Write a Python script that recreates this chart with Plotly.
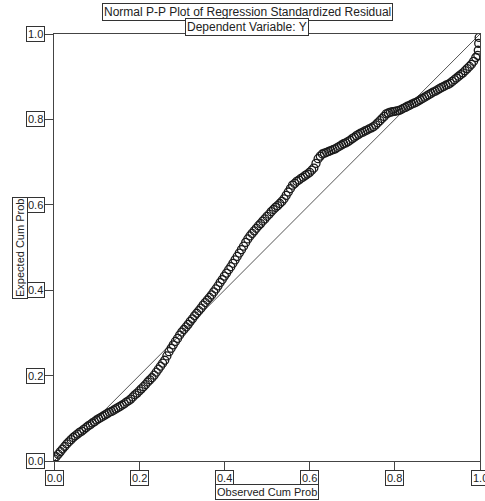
import plotly.graph_objects as go

observed = [
    0.000, 0.005, 0.010, 0.015, 0.020, 0.025, 0.030, 0.035, 0.040, 0.045,
    0.050, 0.055, 0.060, 0.065, 0.070, 0.075, 0.080, 0.085, 0.090, 0.095,
    0.100, 0.105, 0.110, 0.115, 0.120, 0.125, 0.130, 0.135, 0.140, 0.145,
    0.150, 0.155, 0.160, 0.165, 0.170, 0.175, 0.180, 0.185, 0.190, 0.195,
    0.200, 0.205, 0.210, 0.215, 0.220, 0.225, 0.230, 0.235, 0.240, 0.245,
    0.250, 0.255, 0.260, 0.265, 0.270, 0.275, 0.280, 0.285, 0.290, 0.295,
    0.300, 0.305, 0.310, 0.315, 0.320, 0.325, 0.330, 0.335, 0.340, 0.345,
    0.350, 0.355, 0.360, 0.365, 0.370, 0.375, 0.380, 0.385, 0.390, 0.395,
    0.400, 0.405, 0.410, 0.415, 0.420, 0.425, 0.430, 0.435, 0.440, 0.445,
    0.450, 0.455, 0.460, 0.465, 0.470, 0.475, 0.480, 0.485, 0.490, 0.495,
    0.500, 0.505, 0.510, 0.515, 0.520, 0.525, 0.530, 0.535, 0.540, 0.545,
    0.550, 0.555, 0.560, 0.565, 0.570, 0.575, 0.580, 0.585, 0.590, 0.595,
    0.600, 0.605, 0.610, 0.615, 0.620, 0.625, 0.630, 0.635, 0.640, 0.645,
    0.650, 0.655, 0.660, 0.665, 0.670, 0.675, 0.680, 0.685, 0.690, 0.695,
    0.700, 0.705, 0.710, 0.715, 0.720, 0.725, 0.730, 0.735, 0.740, 0.745,
    0.750, 0.755, 0.760, 0.765, 0.770, 0.775, 0.780, 0.785, 0.790, 0.795,
    0.800, 0.805, 0.810, 0.815, 0.820, 0.825, 0.830, 0.835, 0.840, 0.845,
    0.850, 0.855, 0.860, 0.865, 0.870, 0.875, 0.880, 0.885, 0.890, 0.895,
    0.900, 0.905, 0.910, 0.915, 0.920, 0.925, 0.930, 0.935, 0.940, 0.945,
    0.950, 0.955, 0.960, 0.965, 0.970, 0.975, 0.980, 0.985, 0.990, 0.995,
    0.996, 0.997, 0.998,
]
expected = [
    0.005, 0.010, 0.016, 0.022, 0.028, 0.034, 0.040, 0.045, 0.050, 0.055,
    0.059, 0.063, 0.067, 0.070, 0.074, 0.078, 0.082, 0.085, 0.089, 0.092,
    0.096, 0.099, 0.102, 0.105, 0.108, 0.111, 0.114, 0.116, 0.119, 0.122,
    0.125, 0.128, 0.131, 0.134, 0.138, 0.141, 0.145, 0.150, 0.155, 0.159,
    0.164, 0.169, 0.174, 0.179, 0.185, 0.190, 0.195, 0.201, 0.208, 0.215,
    0.222, 0.229, 0.236, 0.246, 0.256, 0.264, 0.272, 0.280, 0.287, 0.295,
    0.302, 0.308, 0.314, 0.320, 0.327, 0.333, 0.340, 0.346, 0.352, 0.358,
    0.365, 0.371, 0.377, 0.383, 0.389, 0.396, 0.403, 0.410, 0.418, 0.425,
    0.433, 0.440, 0.448, 0.455, 0.463, 0.471, 0.479, 0.487, 0.495, 0.503,
    0.512, 0.520, 0.527, 0.533, 0.539, 0.545, 0.551, 0.556, 0.562, 0.567,
    0.573, 0.578, 0.584, 0.589, 0.594, 0.598, 0.603, 0.608, 0.614, 0.622,
    0.630, 0.638, 0.646, 0.650, 0.655, 0.658, 0.662, 0.665, 0.669, 0.672,
    0.676, 0.681, 0.686, 0.697, 0.708, 0.714, 0.719, 0.721, 0.723, 0.725,
    0.727, 0.729, 0.731, 0.734, 0.737, 0.740, 0.743, 0.745, 0.748, 0.751,
    0.755, 0.758, 0.762, 0.765, 0.768, 0.770, 0.773, 0.775, 0.778, 0.780,
    0.783, 0.787, 0.792, 0.797, 0.802, 0.807, 0.813, 0.815, 0.817, 0.818,
    0.819, 0.820, 0.821, 0.823, 0.826, 0.828, 0.831, 0.833, 0.836, 0.838,
    0.840, 0.843, 0.846, 0.849, 0.852, 0.855, 0.858, 0.861, 0.864, 0.866,
    0.869, 0.872, 0.875, 0.877, 0.880, 0.882, 0.885, 0.889, 0.893, 0.897,
    0.901, 0.905, 0.909, 0.914, 0.919, 0.924, 0.929, 0.936, 0.945, 0.950,
    0.962, 0.978, 0.992,
]
ref_line = [0.0, 1.0]
tick_vals = [0.0, 0.2, 0.4, 0.6, 0.8, 1.0]
tick_text = ["0.0", "0.2", "0.4", "0.6", "0.8", "1.0"]

title_text = "Normal P-P Plot of Regression Standardized Residual"
subtitle_text = "Dependent Variable: Y"
x_title = "Observed Cum Prob"
y_title = "Expected Cum Prob"

FONT = "Liberation Sans, Arial, sans-serif"
AX = "#444444"

# plot area in pixels: x 54..480, y 34..461
PL, PR, PT, PB = 54, 480, 34, 461
W, H = 485, 501


def px(x):
    return (x - PL) / (PR - PL)


def py(y):
    return (PB - y) / (PB - PT)


fig = go.Figure()
fig.add_trace(go.Scatter(x=ref_line, y=ref_line, mode="lines",
                         line=dict(color="#555555", width=1), hoverinfo="skip"))
fig.add_trace(go.Scatter(x=observed, y=expected, mode="markers",
                         marker=dict(symbol="circle-open", size=8,
                                     color="#1a1a1a", line=dict(width=1.3))))

axis_common = dict(range=[0, 1], showgrid=False, zeroline=False,
                   showline=True, linecolor=AX, linewidth=1, mirror=True,
                   ticks="outside", ticklen=9, tickcolor=AX, tickwidth=1,
                   tickvals=tick_vals, showticklabels=False, fixedrange=True)
fig.update_xaxes(**axis_common)
fig.update_yaxes(**axis_common)

box = dict(bordercolor="#333333", borderwidth=1, borderpad=1,
           bgcolor="white", showarrow=False,
           font=dict(family=FONT, size=11, color="#222222"))
tbox = {**box, "font": dict(family=FONT, size=12, color="#222222")}

for v, t in zip(tick_vals, tick_text):
    fig.add_annotation(text=t, x=v, y=0, xref="x", yref="paper",
                       xanchor="center", yanchor="top", yshift=-9, **box)
    fig.add_annotation(text=t, x=0, y=v, xref="paper", yref="y",
                       xanchor="right", yanchor="middle", xshift=-9, **box)
fig.add_annotation(text=x_title, x=px(267), y=0, xref="paper", yref="paper",
                   xanchor="center", yanchor="top", yshift=-23, **box)
fig.add_annotation(text=y_title, x=px(20), y=py(248), xref="paper",
                   yref="paper", xanchor="center", yanchor="middle",
                   textangle=-90, **box)
fig.add_annotation(text=title_text, x=px(247), y=py(12), xref="paper",
                   yref="paper", xanchor="center", yanchor="middle", **tbox)
fig.add_annotation(text=subtitle_text, x=px(247), y=py(27), xref="paper",
                   yref="paper", xanchor="center", yanchor="middle", **tbox)

fig.update_layout(width=W, height=H,
                  margin=dict(l=PL, r=W - PR, t=PT, b=H - PB, pad=0),
                  paper_bgcolor="white", plot_bgcolor="white",
                  showlegend=False)
fig.write_html("out.html", config={"displayModeBar": False},
               post_script="document.body.style.margin='0';"
                           "document.body.style.overflow='hidden';")
